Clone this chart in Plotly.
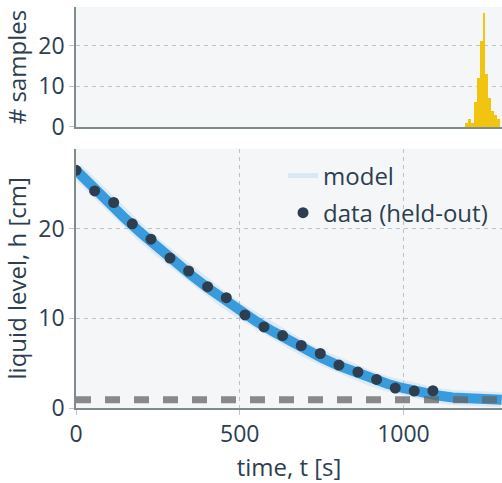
import plotly.graph_objects as go

# ---- data ----
t_model = [0, 50, 100, 150, 200, 250, 300, 350, 400, 450, 500, 550, 600, 650,
           700, 750, 800, 850, 900, 950, 1000, 1050, 1100, 1150, 1200, 1250, 1300]
h_model = [26.5, 24.6, 22.8, 21.1, 19.45, 17.85, 16.3, 14.85, 13.45, 12.1, 10.85,
           9.65, 8.55, 7.5, 6.5, 5.6, 4.75, 4.0, 3.3, 2.7, 2.2, 1.75, 1.42, 1.18,
           1.03, 0.95, 0.93]

t_data = [0, 57, 115, 172, 229, 287, 344, 402, 459, 516, 574, 631, 688, 746,
          803, 861, 918, 975, 1033, 1090]
h_data = [26.48, 24.18, 22.89, 20.51, 18.81, 16.70, 15.26, 13.51, 12.29, 10.37,
          9.03, 8.07, 6.96, 6.07, 4.78, 4.0, 3.18, 2.22, 1.89, 1.92]

hole_level = 0.92

drain_bin_centers = [1193, 1202, 1211, 1220, 1228, 1237, 1246, 1255, 1264, 1273, 1282, 1291]
drain_counts = [1, 2, 1, 6, 12, 21, 28, 13, 7, 4, 3, 2]
bin_width = 8.9

x_ticks = [0, 500, 1000]
y_ticks = [0, 10, 20]

# ---- styles ----
BLUE = "#3498db"
DARK = "#2c3e50"
GOLD = "#f1c40f"
GRID = "#bdc3c7"
AXIS = "#7f8c8d"
FONT = "Open Sans"

fig = go.Figure()

fig.add_trace(go.Scatter(x=t_model, y=h_model, mode="lines", name="model",
                         line=dict(color=BLUE, width=15), opacity=0.13,
                         showlegend=False, xaxis="x", yaxis="y", hoverinfo="skip"))
fig.add_trace(go.Scatter(x=t_model, y=h_model, mode="lines", name="model",
                         line=dict(color=BLUE, width=10), opacity=0.97,
                         showlegend=False, xaxis="x", yaxis="y"))
# legend entry for the model ensemble
fig.add_trace(go.Scatter(x=[None], y=[None], mode="lines", name="model",
                         legendgroup="model",
                         line=dict(color=BLUE, width=5), opacity=0.15,
                         showlegend=True, xaxis="x", yaxis="y"))
fig.add_trace(go.Scatter(x=[t_model[0], t_model[-1]], y=[hole_level, hole_level],
                         mode="lines", showlegend=False,
                         line=dict(color="rgba(100,100,100,0.75)", width=7, dash="15px,14px"),
                         xaxis="x", yaxis="y"))
fig.add_trace(go.Scatter(x=t_data, y=h_data, mode="markers", name="data (held-out)",
                         legendgroup="data",
                         marker=dict(color=DARK, size=11), xaxis="x", yaxis="y"))

fig.add_trace(go.Bar(x=drain_bin_centers, y=drain_counts, width=bin_width,
                     marker=dict(color=GOLD, line=dict(width=0)), showlegend=False,
                     xaxis="x2", yaxis="y2"))

common_axis = dict(showline=True, linecolor=AXIS, linewidth=1.5, zeroline=False,
                   gridcolor=GRID, griddash="4px,4px", gridwidth=1,
                   ticks="outside", ticklen=5, tickcolor=GRID,
                   tickfont=dict(size=23, color=DARK, family=FONT))

fig.update_layout(
    width=502, height=483,
    margin=dict(l=76, r=0, t=7, b=75, pad=0),
    paper_bgcolor="white", plot_bgcolor="#f5f6f8",
    font=dict(family=FONT, color=DARK, size=23),
    bargap=0,
    xaxis=dict(domain=[0, 1], anchor="y", range=[0, 1301], tickvals=x_ticks,
               showgrid=True,
               title=dict(text="time, t [s]", font=dict(size=24, color=DARK), standoff=16),
               **common_axis),
    yaxis=dict(domain=[0, 0.647], anchor="x", range=[0, 28.9], tickvals=y_ticks,
               showgrid=True,
               title=dict(text="liquid level, h [cm]", font=dict(size=24, color=DARK),
                          standoff=6),
               **common_axis),
    xaxis2=dict(domain=[0, 1], anchor="y2", matches="x", showticklabels=False,
                showgrid=False, showline=True, linecolor=AXIS, linewidth=1.5,
                zeroline=False, ticks=""),
    yaxis2=dict(domain=[0.701, 1], anchor="x2", rangemode="tozero", tickvals=y_ticks,
                showgrid=True,
                title=dict(text="# samples", font=dict(size=24, color=DARK),
                           standoff=6),
                **common_axis),
    legend=dict(x=0.486, y=0.635, xanchor="left", yanchor="top",
                bgcolor="rgba(0,0,0,0)", font=dict(size=24, color=DARK, family=FONT),
                tracegroupgap=3),
)

fig.write_html("out.html", config={"displayModeBar": False},
               post_script="document.body.style.margin='0';")
